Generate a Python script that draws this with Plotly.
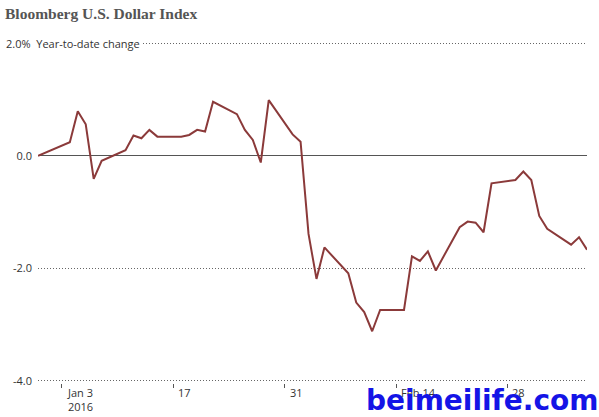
import plotly.graph_objects as go

dates = [
    "2015-12-31", "2016-01-04", "2016-01-05", "2016-01-06", "2016-01-07", "2016-01-08",
    "2016-01-11", "2016-01-12", "2016-01-13", "2016-01-14", "2016-01-15",
    "2016-01-18", "2016-01-19", "2016-01-20", "2016-01-21", "2016-01-22",
    "2016-01-25", "2016-01-26", "2016-01-27", "2016-01-28", "2016-01-29",
    "2016-02-01", "2016-02-02", "2016-02-03", "2016-02-04", "2016-02-05",
    "2016-02-08", "2016-02-09", "2016-02-10", "2016-02-11", "2016-02-12",
    "2016-02-15", "2016-02-16", "2016-02-17", "2016-02-18", "2016-02-19",
    "2016-02-22", "2016-02-23", "2016-02-24", "2016-02-25", "2016-02-26",
    "2016-02-29", "2016-03-01", "2016-03-02", "2016-03-03", "2016-03-04",
    "2016-03-07", "2016-03-08", "2016-03-09",
]
ytd_change = [
    0.00, 0.24, 0.79, 0.56, -0.41, -0.09,
    0.10, 0.36, 0.31, 0.46, 0.34,
    0.34, 0.37, 0.46, 0.43, 0.96,
    0.74, 0.46, 0.28, -0.12, 0.99,
    0.38, 0.25, -1.39, -2.19, -1.63,
    -2.09, -2.61, -2.78, -3.12, -2.74,
    -2.74, -1.79, -1.87, -1.70, -2.04,
    -1.27, -1.17, -1.19, -1.36, -0.49,
    -0.43, -0.28, -0.43, -1.07, -1.30,
    -1.58, -1.45, -1.67,
]

x_tick_dates = ["2016-01-03", "2016-01-17", "2016-01-31", "2016-02-14", "2016-02-28"]
x_tick_labels = ["Jan 3<br>2016", "17", "31", "Feb 14", "28"]
y_tick_vals = [2, 0, -2, -4]
y_tick_labels = ["", "0.0", "-2.0", "-4.0"]

title_text = "Bloomberg U.S. Dollar Index"
top_label = "2.0%  Year-to-date change"
watermark = "beimeilife.com"

FONT = "Open Sans"
TXT = "#333333"

fig = go.Figure()
fig.add_trace(go.Scatter(
    x=dates, y=ytd_change, mode="lines",
    line=dict(color="#8b3a3a", width=2),
    hoverinfo="skip",
))

fig.update_layout(
    width=599, height=417,
    margin=dict(l=38, r=12, t=41, b=34, pad=0),
    paper_bgcolor="white", plot_bgcolor="white",
    showlegend=False,
    font=dict(family=FONT, size=11, color=TXT),
    xaxis=dict(
        type="date",
        range=["2015-12-31", "2016-03-09"],
        tickvals=x_tick_dates,
        showticklabels=False,
        ticks="outside", ticklen=4, tickwidth=1, tickcolor="#555555",
        showgrid=False, zeroline=False, showline=False,
    ),
    yaxis=dict(
        range=[-4.04, 2.04],
        tickvals=y_tick_vals, ticktext=y_tick_labels,
        showgrid=True, gridcolor="#666666", griddash="1px,2px", gridwidth=1,
        zeroline=True, zerolinecolor="#555555", zerolinewidth=1,
        showline=False, ticks="", ticklabelstandoff=5,
        tickfont=dict(family=FONT, size=11, color=TXT),
    ),
)

annotations = []
for d, lab in zip(x_tick_dates, x_tick_labels):
    annotations.append(dict(
        x=d, xref="x", y=0, yref="paper",
        text=lab, showarrow=False, xanchor="left", yanchor="top", align="left",
        xshift=3, yshift=0, font=dict(family=FONT, size=11, color=TXT),
    ))

annotations.append(dict(
    x=0, xref="paper", y=2, yref="y", text=top_label, showarrow=False,
    xanchor="left", yanchor="middle", xshift=-34, bgcolor="white",
    font=dict(family=FONT, size=11, color=TXT),
))
annotations.append(dict(
    x=0, xref="paper", y=1, yref="paper", text="<b>" + title_text + "</b>",
    showarrow=False, xanchor="left", yanchor="middle", xshift=-35, yshift=28,
    font=dict(family="Liberation Serif", size=15.5, color="#555555"),
))
annotations.append(dict(
    x=1, xref="paper", y=0, yref="paper", text="<b>" + watermark + "</b>",
    showarrow=False, xanchor="right", yanchor="middle", xshift=13, yshift=-17,
    font=dict(family="DejaVu Sans", size=28, color="#1414e6"),
))
fig.update_layout(annotations=annotations)

fig.write_html(
    "out.html",
    config={"displayModeBar": False},
    post_script="document.body.style.margin='0';document.body.style.padding='0';",
)
